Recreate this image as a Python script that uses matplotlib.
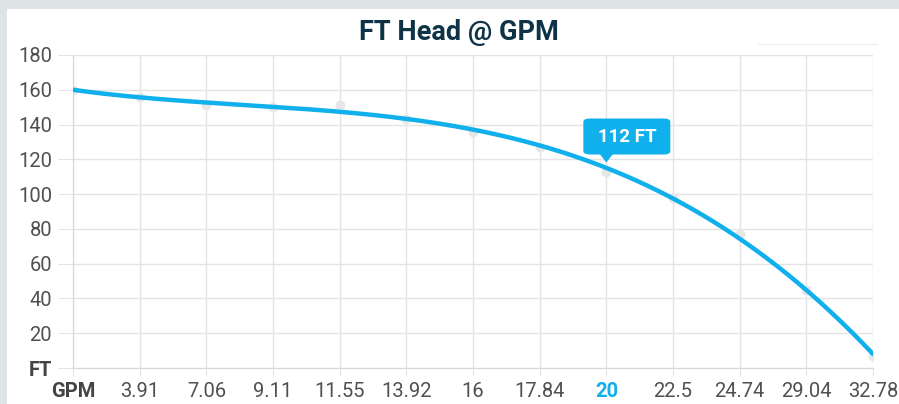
import numpy as np
import matplotlib.pyplot as plt
from matplotlib.patches import FancyBboxPatch, Polygon, Rectangle

plt.rcParams['font.family'] = ['Roboto', 'DejaVu Sans']

# Data
gpm_labels = ['GPM', '3.91', '7.06', '9.11', '11.55', '13.92', '16',
              '17.84', '20', '22.5', '24.74', '29.04', '32.78']
head_ft = [160, 156, 151, 150, 151, 143, 136, 127, 113, 98, 77, 45, 7]
y_ticks = [0, 20, 40, 60, 80, 100, 120, 140, 160, 180]
y_labels = ['FT', '20', '40', '60', '80', '100', '120', '140', '160', '180']
highlight = 8          # index of the "20" GPM point
highlight_text = '112 FT'

BLUE = '#0fb0ec'
GRID = '#e4e4e4'
TEXT = '#505050'

W, H = 899, 404
fig = plt.figure(figsize=(W / 100, H / 100), dpi=100)
fig.patch.set_facecolor('#dee3e6')
fig.patches.append(Rectangle((7 / W, 0), 1, (H - 9) / H, transform=fig.transFigure,
                             facecolor='white', edgecolor='none', zorder=-10))
fig.lines.append(plt.Line2D([758 / W, 877 / W], [1 - 44 / H, 1 - 44 / H],
                            transform=fig.transFigure, color='#f0f0f0', lw=1))

ax = fig.add_axes([73 / W, 36 / H, 800 / W, 313 / H])
ax.set_facecolor('none')
ax.set_zorder(1)

x = np.arange(len(head_ft))
# smooth trend curve through the measured points
coef = np.polyfit(x, head_ft, 3)
xs = np.linspace(0, len(head_ft) - 1, 300)
ax.plot(x, head_ft, 'o', color='#e6e6e6', ms=6, zorder=2)
ax.plot(xs, np.polyval(coef, xs), color=BLUE, lw=3.2, solid_capstyle='round', zorder=3)

ax.set_xlim(0, len(head_ft) - 1)
ax.set_ylim(0, 180)
ax.set_xticks(x)
ax.set_xticklabels(gpm_labels)
ax.set_yticks(y_ticks)
ax.set_yticklabels(y_labels)
ax.grid(True, color=GRID, lw=1)
for s in ['top', 'right']:
    ax.spines[s].set_visible(False)
for s in ['left', 'bottom']:
    ax.spines[s].set_color('#d6d6d6')
ax.tick_params(axis='y', length=11, color=GRID, pad=4, labelsize=14.5, labelcolor=TEXT)
ax.tick_params(axis='x', length=6, color=GRID, pad=4, labelsize=14.5, labelcolor=TEXT)

for lab in ax.get_xticklabels():
    if lab.get_text() == 'GPM':
        lab.set_fontweight('bold')
        lab.set_color('#444444')
    if lab.get_text() == gpm_labels[highlight]:
        lab.set_fontweight('bold')
        lab.set_color(BLUE)
ax.get_yticklabels()[0].set_fontweight('bold')
ax.get_yticklabels()[0].set_color('#444444')

fig.text(459 / W, 1 - 32 / H, 'FT Head @ GPM', ha='center', va='center',
         fontsize=19.5, fontweight='bold', color='#0e3347')

# tooltip at the highlighted point
hx, hy = highlight, head_ft[highlight]
px, py = ax.transData.transform((hx, hy))
box_w, box_h = 87, 36
bx0 = px - 23
by0 = py + 17
box = FancyBboxPatch((bx0 / W, by0 / H), box_w / W, box_h / H,
                     boxstyle='round,pad=0,rounding_size=0.008',
                     transform=fig.transFigure, facecolor=BLUE, edgecolor='none', zorder=5)
fig.patches.append(box)
fig.patches.append(Polygon([[(px - 7) / W, (by0 + 1) / H], [(px + 7) / W, (by0 + 1) / H],
                            [px / W, (by0 - 8) / H]], closed=True, transform=fig.transFigure,
                           facecolor=BLUE, edgecolor='none', zorder=5))
fig.text((bx0 + box_w / 2) / W, (by0 + box_h / 2) / H, highlight_text, ha='center',
         va='center', fontsize=13.5, fontweight='bold', color='white', zorder=6)

fig.savefig('out.png', dpi=100)
